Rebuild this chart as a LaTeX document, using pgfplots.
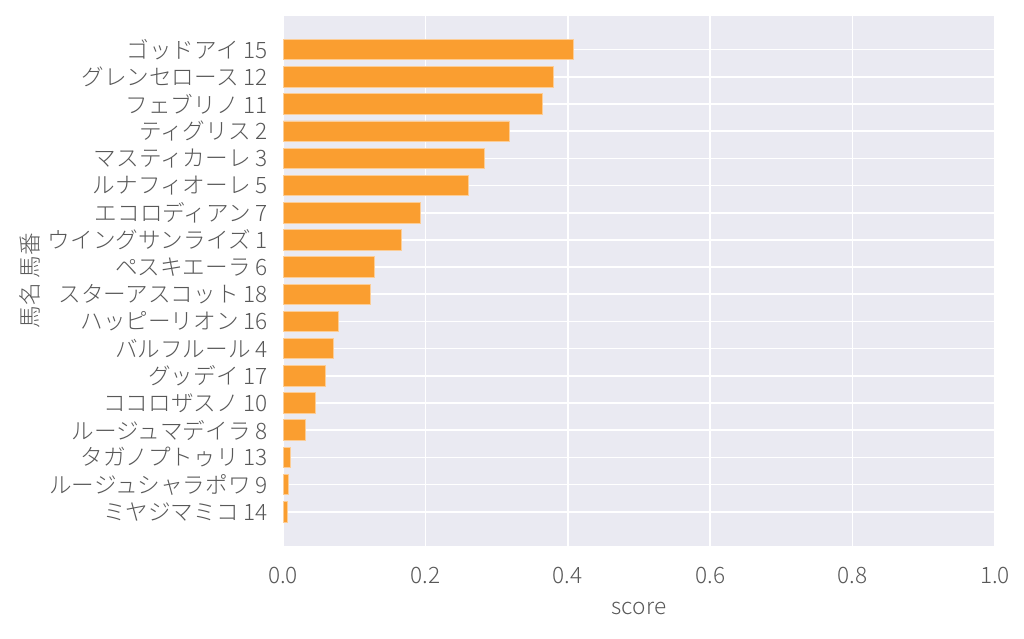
\documentclass[border=0pt]{standalone}
\usepackage{pgfplots}
\pgfplotsset{compat=1.18}
\usepackage{pgfplotstable}
\usepackage{fontspec}
\setmainfont{Noto Sans CJK JP Light}
\definecolor{bgc}{HTML}{EAEAF2}
\definecolor{barc}{RGB}{250,158,48}
\definecolor{edgec}{RGB}{252,205,150}
\definecolor{txt}{RGB}{88,88,88}
\pgfplotstableread{
idx score
0 0.4086
1 0.3805
2 0.3650
3 0.3180
4 0.2830
5 0.2600
6 0.1926
7 0.1665
8 0.1290
9 0.1230
10 0.0785
11 0.0715
12 0.0600
13 0.0450
14 0.0318
15 0.0108
16 0.0074
17 0.0060
}\scores
\begin{document}
\begin{tikzpicture}[x=1pt,y=1pt]
\begin{axis}[
  at={(283pt,92.3pt)}, anchor=south west,
  width=712pt, height=530pt, scale only axis,
  xmin=0, xmax=1, ymin=-1.25, ymax=18.25, y dir=reverse,
  axis background/.style={fill=bgc},
  axis line style={draw=none},
  major tick length=0pt,
  grid=major,
  major grid style={white, line width=1.6pt},
  xtick={0,0.2,0.4,0.6,0.8,1.0},
  xticklabels={0.0,0.2,0.4,0.6,0.8,1.0},
  ytick={0,...,17},
  yticklabels={ゴッドアイ 15,グレンセロース 12,フェブリノ 11,ティグリス 2,マスティカーレ 3,ルナフィオーレ 5,エコロディアン 7,ウイングサンライズ 1,ペスキエーラ 6,スターアスコット 18,ハッピーリオン 16,バルフルール 4,グッデイ 17,ココロザスノ 10,ルージュマデイラ 8,タガノプトゥリ 13,ルージュシャラポワ 9,ミヤジマミコ 14},
  /pgf/number format/assume math mode=true,
  ticklabel style={font=\fontsize{22.6}{26}\selectfont, text=txt},
  yticklabel style={inner sep=0pt, xshift=-15pt},
  xticklabel style={inner sep=0pt, yshift=-21pt},
  xlabel={score},
  ylabel={馬名 馬番},
  label style={font=\fontsize{22.6}{26}\selectfont, text=txt},
  xlabel style={at={(axis description cs:0.5,0)}, anchor=center, yshift=-63pt},
  ylabel style={at={(axis description cs:-0.3553,0.5)}, anchor=center},
  clip=false,
]
\addplot[xbar, bar width=20.5pt, fill=barc, draw=edgec, line width=0.9pt, bar shift=0pt]
  table[x=score, y=idx] {\scores};
\end{axis}
\pgfresetboundingbox
\useasboundingbox (0,0) rectangle (1024pt,638pt);
\end{tikzpicture}
\end{document}
